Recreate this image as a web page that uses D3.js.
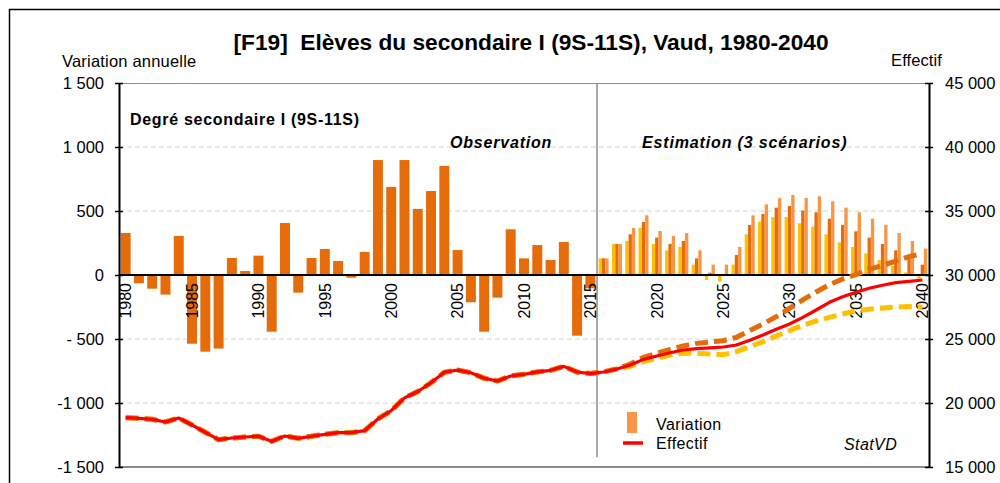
<!DOCTYPE html>
<html>
<head>
<meta charset="utf-8">
<script src="https://cdn.jsdelivr.net/npm/d3@7/dist/d3.min.js"></script>
<style>
  body { margin: 0; background: #fff; }
  svg text { font-family: "Liberation Sans", Arial, sans-serif; fill: #000; }
</style>
</head>
<body>
<script>
// data

var years = d3.range(1980, 2041);
var estYears = d3.range(2016, 2041);

// variation annuelle, observation 1980-2015
var varObs = [328, -65, -107, -153, 305, -537, -599, -575, 133, 31,
  151, -443, 406, -138, 133, 203, 109, -21, 180, 898,
  688, 898, 516, 656, 852, 195, -213, -443, -177, 357,
  130, 234, 117, 258, -474, -104];

// variation annuelle, 3 scenarios 2016-2040
var varLow = [130, 242, 266, 367, 242, 193, 219, 81, -39, -52,
  81, 318, 417, 453, 453, 404, 378, 318, 255, 219,
  169, 117, 70, 21, -26];
var varMid = [130, 242, 318, 414, 292, 242, 266, 130, 18, 5,
  156, 391, 477, 526, 539, 503, 490, 440, 391, 341,
  292, 242, 193, 156, 81];
var varHigh = [130, 242, 367, 466, 344, 305, 328, 193, 81, 81,
  219, 466, 552, 602, 625, 602, 615, 576, 526, 490,
  440, 391, 328, 266, 206];

// effectif, observation 1980-2015
var effObs = [18850, 18800, 18725, 18515, 18828, 18280, 17710, 17135, 17265, 17344,
  17400, 17010, 17422, 17240, 17400, 17555, 17680, 17680, 17840, 18750,
  19400, 20400, 20900, 21580, 22400, 22570, 22360, 21930, 21720, 22110,
  22240, 22430, 22555, 22860, 22420, 22300];

// effectif, scenarios 2016-2040
var effRef = [22420, 22660, 22970, 23410, 23670, 23930, 24140, 24245, 24300, 24375,
  24530, 24900, 25310, 25760, 26170, 26690, 27265, 27870, 28305, 28650,
  28960, 29195, 29400, 29505, 29610];
var effHigh = [22430, 22670, 23040, 23570, 23880, 24190, 24450, 24660, 24765, 24870,
  25130, 25650, 26170, 26745, 27400, 28050, 28670, 29245, 29690, 30025,
  30440, 30755, 31090, 31430, 31690];
var effLow = [22430, 22670, 22860, 23230, 23490, 23750, 23880, 23880, 23830, 23775,
  24010, 24400, 24790, 25235, 25650, 26070, 26405, 26690, 26950, 27190,
  27320, 27420, 27500, 27530, 27475];

var leftTicks = [1500, 1000, 500, 0, -500, -1000, -1500];
var leftTickLabels = ["1 500", "1 000", "500", "0", "- 500", "-1 000", "-1 500"];
var rightTicks = [45000, 40000, 35000, 30000, 25000, 20000, 15000];
var rightTickLabels = ["45 000", "40 000", "35 000", "30 000", "25 000", "20 000", "15 000"];
var yearTicks = [1980, 1985, 1990, 1995, 2000, 2005, 2010, 2015, 2020, 2025, 2030, 2035, 2040];
var gridValues = [1000, 500, -500, -1000];

var cObs = "#e46c0a", cLow = "#ffc000", cMid = "#e46c0a", cHigh = "#f79646", cRed = "#ff0000";

// svg set up

var margin = {top: 83, right: 71, bottom: 16, left: 119},
  width = 1000 - margin.left - margin.right,
  height = 483 - margin.top - margin.bottom;

let root = d3.select("body").append("svg")
  .attr("width", 1000)
  .attr("height", 483);

// frame
root.append("rect")
  .attr("x", 9.5).attr("y", 9.5)
  .attr("width", 1000).attr("height", 500)
  .attr("fill", "none").attr("stroke", "#000").attr("stroke-width", 1.5);

root.append("text")
  .attr("x", 531).attr("y", 50)
  .attr("text-anchor", "middle")
  .attr("textLength", 595)
  .attr("lengthAdjust", "spacingAndGlyphs")
  .style("white-space", "pre")
  .style("font-weight", "bold").style("font-size", "22px")
  .text("[F19]  Elèves du secondaire I (9S-11S), Vaud, 1980-2040");

root.append("text")
  .attr("x", 62).attr("y", 67)
  .style("font-size", "16.5px").style("letter-spacing", "0.2px")
  .text("Variation annuelle");

root.append("text")
  .attr("x", 942).attr("y", 66)
  .attr("text-anchor", "end")
  .style("font-size", "16.5px").style("letter-spacing", "0.1px")
  .text("Effectif");

let svg = root.append("g")
  .attr("transform", "translate(" + margin.left + "," + margin.top + ")");

var x = d3.scaleBand()
  .domain(years)
  .range([0, width])
  .paddingInner(0.25)
  .paddingOuter(0.125);

var xs = d3.scaleBand()
  .domain(["low", "mid", "high"])
  .range([0, x.bandwidth()]);

var yL = d3.scaleLinear().domain([-1500, 1500]).range([height, 0]);
var yR = d3.scaleLinear().domain([15000, 45000]).range([height, 0]);

// gridlines
svg.append("g")
  .selectAll("line")
  .data(gridValues)
  .enter()
  .append("line")
  .attr("x1", 0).attr("x2", width)
  .attr("y1", d => yL(d)).attr("y2", d => yL(d))
  .attr("stroke", "#d4d4d4")
  .attr("stroke-dasharray", "5,3");

// top and bottom plot lines
svg.append("line")
  .attr("x1", 0).attr("x2", width).attr("y1", 0.5).attr("y2", 0.5)
  .attr("stroke", "#8c8c8c").attr("stroke-width", 1.2);
svg.append("line")
  .attr("x1", 0).attr("x2", width).attr("y1", height).attr("y2", height)
  .attr("stroke", "#8c8c8c").attr("stroke-width", 2);

// separator observation / estimation
svg.append("line")
  .attr("x1", x(2016) - x.step() * x.paddingInner() / 2)
  .attr("x2", x(2016) - x.step() * x.paddingInner() / 2)
  .attr("y1", 0).attr("y2", height - 10)
  .attr("stroke", "#8c8c8c").attr("stroke-width", 1.5);

// observation bars
svg.append("g")
  .selectAll("rect")
  .data(varObs)
  .enter()
  .append("rect")
  .attr("x", (d, i) => x(1980 + i))
  .attr("width", x.bandwidth())
  .attr("y", d => yL(Math.max(0, d)))
  .attr("height", d => Math.abs(yL(d) - yL(0)))
  .attr("fill", cObs);

// estimation bars, 3 scenarios
var scen = [
  {key: "low", values: varLow, color: cLow},
  {key: "mid", values: varMid, color: cMid},
  {key: "high", values: varHigh, color: cHigh}
];
scen.forEach(s => {
  svg.append("g")
    .selectAll("rect")
    .data(s.values)
    .enter()
    .append("rect")
    .attr("x", (d, i) => x(estYears[i]) + xs(s.key))
    .attr("width", xs.bandwidth())
    .attr("y", d => yL(Math.max(0, d)))
    .attr("height", d => Math.abs(yL(d) - yL(0)))
    .attr("fill", s.color);
});

// zero line
svg.append("line")
  .attr("x1", 0).attr("x2", width)
  .attr("y1", yL(0)).attr("y2", yL(0))
  .attr("stroke", "#000").attr("stroke-width", 2);

// year labels
svg.append("g")
  .selectAll("text")
  .data(yearTicks)
  .enter()
  .append("text")
  .attr("transform", d => "translate(" + (x(d) + x.bandwidth() / 2) + "," + (yL(0) + 8) + ") rotate(-90)")
  .attr("text-anchor", "end")
  .attr("dy", "0.36em")
  .style("font-size", "16px")
  .text(d => d);

// effectif lines
var line = d3.line()
  .x(d => x(d[0]) + x.bandwidth() / 2)
  .y(d => yR(d[1]));

let series = (est) => effObs.map((v, i) => [1980 + i, v]).concat(est.map((v, i) => [estYears[i], v]));

svg.append("path")
  .datum(series(effLow))
  .attr("d", line)
  .attr("fill", "none")
  .attr("stroke", cLow)
  .attr("stroke-width", 5)
  .attr("stroke-dasharray", "13,6");

svg.append("path")
  .datum(series(effHigh))
  .attr("d", line)
  .attr("fill", "none")
  .attr("stroke", cMid)
  .attr("stroke-width", 5)
  .attr("stroke-dasharray", "13,6");

svg.append("path")
  .datum(series(effRef))
  .attr("d", line)
  .attr("fill", "none")
  .attr("stroke", cRed)
  .attr("stroke-width", 3.2)
  .attr("stroke-linejoin", "round");

// axes
let axL = svg.append("g")
  .call(d3.axisLeft(yL)
    .tickValues(leftTicks)
    .tickFormat((d, i) => leftTickLabels[i])
    .tickSizeInner(4)
    .tickSizeOuter(0)
    .tickPadding(11));

let axR = svg.append("g")
  .attr("transform", "translate(" + width + ",0)")
  .call(d3.axisRight(yR)
    .tickValues(rightTicks)
    .tickFormat((d, i) => rightTickLabels[i])
    .tickSizeInner(4)
    .tickSizeOuter(0)
    .tickPadding(12));

[axL, axR].forEach(ax => {
  ax.select(".domain").attr("stroke", "#000").attr("stroke-width", 2);
  ax.selectAll(".tick line").attr("stroke", "#000").attr("stroke-width", 1.5);
  ax.selectAll(".tick text")
    .style("font-size", "16.5px")
    .style("font-family", "'Liberation Sans', Arial, sans-serif")
    .attr("fill", "#000");
});
axL.selectAll(".tick line").attr("x1", 4);
axR.selectAll(".tick line").attr("x1", -4);

// annotations
svg.append("text")
  .attr("x", 11).attr("y", 42)
  .style("font-weight", "bold").style("font-size", "16px")
  .style("letter-spacing", "0.7px")
  .text("Degré secondaire I (9S-11S)");

svg.append("text")
  .attr("x", 331).attr("y", 65)
  .style("font-weight", "bold").style("font-style", "italic").style("font-size", "16px")
  .style("letter-spacing", "0.8px")
  .text("Observation");

svg.append("text")
  .attr("x", 523).attr("y", 65)
  .style("font-weight", "bold").style("font-style", "italic").style("font-size", "16px")
  .style("letter-spacing", "0.85px")
  .text("Estimation (3 scénarios)");

// legend
let lg = svg.append("g").attr("transform", "translate(504,328)");
lg.append("rect")
  .attr("x", 4).attr("y", 1).attr("width", 10).attr("height", 21)
  .attr("fill", cHigh);
lg.append("text").attr("x", 33).attr("y", 19)
  .style("font-size", "16px").style("letter-spacing", "0.4px").text("Variation");
lg.append("line")
  .attr("x1", 0).attr("x2", 20).attr("y1", 32).attr("y2", 32)
  .attr("stroke", cRed).attr("stroke-width", 3.5);
lg.append("text").attr("x", 33).attr("y", 38)
  .style("font-size", "16px").style("letter-spacing", "0.4px").text("Effectif");

svg.append("text")
  .attr("x", 725).attr("y", 367)
  .style("font-style", "italic").style("font-size", "16px")
  .style("letter-spacing", "0.4px")
  .text("StatVD");
</script>
</body>
</html>
